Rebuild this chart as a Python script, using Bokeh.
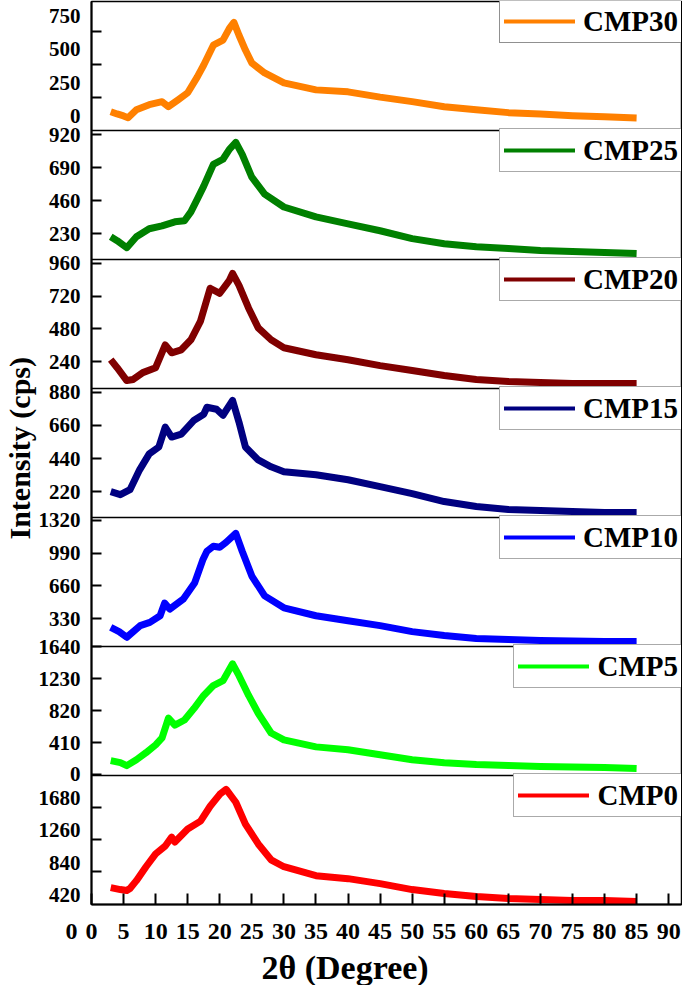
import numpy as np
from bokeh.plotting import figure
from bokeh.models import Range1d, FixedTicker, Title, Legend, LegendItem, Span
from bokeh.embed import file_html
from bokeh.resources import INLINE

# ---------------- data ----------------
names = ["CMP30", "CMP25", "CMP20", "CMP15", "CMP10", "CMP5", "CMP0"]
colors = ["#FF8000", "#008000", "#800000", "#000080", "#0000FF", "#00FF00", "#FF0000"]

x_cmp30 = [3, 4, 5, 5.7, 7, 9, 11, 12, 13.5, 15, 16.5, 17.5, 19, 20.5, 21.5, 22.2, 23, 24, 25, 27, 30, 35, 40, 45, 50, 55, 60, 65, 70, 75, 80, 85]
y_cmp30 = [142, 125, 110, 97, 157, 195, 218, 180, 232, 285, 405, 495, 645, 683, 772, 817, 720, 608, 510, 435, 360, 307, 292, 252, 218, 180, 157, 135, 125, 112, 103, 95]

x_cmp25 = [3, 4, 5.5, 7, 9, 11, 13, 14.5, 15.5, 16.5, 17.5, 19, 20.5, 21.5, 22.5, 23.5, 25, 27, 30, 35, 40, 45, 50, 55, 60, 65, 70, 75, 80, 85]
y_cmp25 = [209, 182, 133, 209, 265, 285, 313, 320, 382, 471, 561, 713, 748, 817, 865, 782, 623, 506, 416, 347, 299, 251, 196, 161, 140, 127, 113, 106, 99, 92]

x_cmp20 = [3, 4, 5.5, 6.5, 8, 10, 11.5, 12.5, 14, 15.5, 17, 18.5, 20, 21.5, 22, 23, 24.5, 26, 28, 30, 35, 40, 45, 50, 55, 60, 65, 70, 75, 80, 85]
y_cmp20 = [255, 196, 102, 110, 160, 196, 363, 305, 327, 400, 537, 777, 740, 835, 885, 798, 631, 487, 400, 342, 291, 254, 211, 175, 139, 110, 95, 88, 80, 80, 80]

x_cmp15 = [3, 4.5, 6, 7.5, 9, 10.5, 11.5, 12.5, 14, 16, 17.5, 18, 19.5, 20.5, 22, 23, 24, 26, 28, 30, 35, 40, 45, 50, 55, 60, 65, 70, 75, 80, 85]
y_cmp15 = [220, 200, 233, 365, 471, 517, 649, 583, 603, 695, 735, 781, 768, 728, 827, 682, 517, 431, 385, 352, 332, 299, 253, 207, 154, 121, 101, 95, 88, 81, 81]

x_cmp10 = [3, 4.3, 5.5, 7.6, 9.1, 10.7, 11.4, 12.2, 14.3, 16.1, 17.4, 18, 19, 20, 21, 22.5, 23.5, 25, 27, 30, 35, 40, 45, 50, 55, 60, 65, 70, 80, 85]
y_cmp10 = [243, 200, 143, 260, 293, 360, 487, 427, 527, 693, 930, 1010, 1060, 1050, 1100, 1190, 1010, 760, 560, 440, 360, 310, 260, 200, 160, 130, 120, 110, 100, 100]

x_cmp5 = [3, 4.5, 5.5, 7, 8.5, 10, 11, 12, 13, 14.5, 16, 17.5, 19, 20.5, 22, 23, 24.5, 26, 28, 30, 35, 40, 45, 50, 55, 60, 65, 70, 80, 85]
y_cmp5 = [178, 152, 114, 190, 280, 381, 470, 724, 635, 700, 851, 1016, 1143, 1206, 1422, 1270, 1016, 787, 533, 444, 355, 317, 254, 190, 152, 127, 114, 102, 89, 76]

x_cmp0 = [3, 4.5, 5.5, 6, 7, 8.5, 10, 11.5, 12.5, 13, 15, 17, 18.5, 20, 21, 22.5, 24, 26, 28, 30, 35, 40, 45, 50, 55, 60, 65, 70, 75, 80, 85]
y_cmp0 = [634, 608, 595, 621, 724, 905, 1072, 1175, 1290, 1227, 1395, 1498, 1691, 1846, 1911, 1743, 1459, 1201, 995, 905, 788, 750, 685, 608, 556, 517, 492, 479, 466, 466, 453]

xs = [x_cmp30, x_cmp25, x_cmp20, x_cmp15, x_cmp10, x_cmp5, x_cmp0]
ys = [y_cmp30, y_cmp25, y_cmp20, y_cmp15, y_cmp10, y_cmp5, y_cmp0]

# per-panel intensity limits, tick marks and tick labels
y_limits = [(0, 975), (51, 948), (44, 987), (48, 906), (50, 1350), (-13, 1645), (414, 2091)]
y_ticks = [[250, 500, 750], [230, 460, 690, 920], [240, 480, 720, 960], [220, 440, 660, 880],
           [330, 660, 990, 1320], [0, 410, 820, 1230, 1640], [840, 1260, 1680]]
y_label_values = [[0, 250, 500, 750], [230, 460, 690, 920], [240, 480, 720, 960], [220, 440, 660, 880],
                  [330, 660, 990, 1320], [0, 410, 820, 1230, 1640], [420, 840, 1260, 1680]]
y_labels = [[str(v) for v in vals] for vals in y_label_values]
label_shift = [15 / 130, 0, 0, 0, 0, 0, 9 / 130]   # labels printed above their tick marks (panel fraction)
x_ticks = list(range(0, 95, 5))
x_tick_labels = {t: str(t) for t in x_ticks}
x_tick_labels[0] = "0\u20040\u2002\u2004"   # stray "0" of the lowest panel sits left of the x "0"

# ---------------- figure ----------------
FONT = "Liberation Serif"
N = len(names)
PANEL_H = 129
FRAME_W = 590
XMAX = 92

p = figure(frame_width=FRAME_W, frame_height=PANEL_H * N, x_range=Range1d(0, XMAX), y_range=Range1d(0, N),
           output_backend="svg", toolbar_location=None,
           min_border_left=0, min_border_right=1, min_border_top=1, min_border_bottom=0)
p.outline_line_color = "black"
p.outline_line_width = 1.5
p.grid.visible = False
p.background_fill_color = "white"

major_pos, minor_pos, overrides = [], [], {}
for i, name in enumerate(names):
    lo, hi = y_limits[i]
    span = hi - lo
    base = N - 1 - i                     # panel slot (bottom edge) in panel units
    p.extra_y_ranges[name] = Range1d(lo - base * span, lo + (N - base) * span)

    p.line(xs[i], ys[i], y_range_name=name, line_color=colors[i], line_width=7, line_join="round")
    leg_r = p.line([0], [np.nan], y_range_name=name, line_color=colors[i], line_width=4, line_cap="round")

    text_w = {"C": 0.722, "M": 0.944, "P": 0.611}
    w_txt = sum(text_w.get(c, 0.5) for c in name) * 29
    leg_w = 2 * 4 + 71 + 8 + w_txt
    leg_h = 2 * 4 + 34
    leg = Legend(items=[LegendItem(label=name, renderers=[leg_r])],
                 location=(FRAME_W - leg_w, PANEL_H * (N - i) - leg_h),
                 margin=0, padding=4, spacing=0, glyph_width=71, glyph_height=34, label_height=34,
                 label_standoff=8, label_text_font=FONT, label_text_font_style="bold",
                 label_text_font_size="29px", label_text_color="black",
                 border_line_color="#222222" if i == 0 else "#555555", border_line_width=1,
                 background_fill_color="white", background_fill_alpha=1)
    p.add_layout(leg)

    for v in y_ticks[i]:
        minor_pos.append(round(base + (v - lo) / span, 6))
    for v, t in zip(y_label_values[i], y_labels[i]):
        pos = round(base + (v - lo) / span + label_shift[i], 6)
        if 0 <= pos <= N:
            major_pos.append(pos)
            overrides[pos] = t
    if i > 0:
        p.add_layout(Span(location=base + 1, dimension="width", line_color="black", line_width=1.5))

ax = p.yaxis[0]
ax.ticker = FixedTicker(ticks=major_pos, minor_ticks=minor_pos)
ax.major_label_overrides = overrides
ax.major_tick_in = 0
ax.major_tick_out = 0
ax.minor_tick_in = 10
ax.minor_tick_out = 0
ax.axis_line_width = 2
ax.minor_tick_line_width = 2
ax.major_label_text_font = FONT
ax.major_label_text_font_style = "bold"
ax.major_label_text_font_size = "21px"
ax.major_label_text_color = "black"
ax.major_label_standoff = 11

xa = p.xaxis[0]
xa.ticker = FixedTicker(ticks=x_ticks, minor_ticks=[])
xa.major_label_overrides = x_tick_labels
xa.major_tick_in = 11
xa.major_tick_out = 0
xa.axis_line_width = 2
xa.major_tick_line_width = 2
xa.major_label_text_font = FONT
xa.major_label_text_font_style = "bold"
xa.major_label_text_font_size = "24px"
xa.major_label_text_color = "black"
xa.major_label_standoff = 13

p.add_layout(Title(text="2θ (Degree)", align="left", offset=170, standoff=0,
                   text_font=FONT, text_font_style="bold", text_font_size="34px",
                   text_color="black"), "below")
p.add_layout(Title(text="Intensity (cps)", align="left", offset=365, standoff=0,
                   text_font=FONT, text_font_style="bold", text_font_size="30px",
                   text_color="black"), "left")

open("out.html", "w").write(file_html(p, INLINE))
